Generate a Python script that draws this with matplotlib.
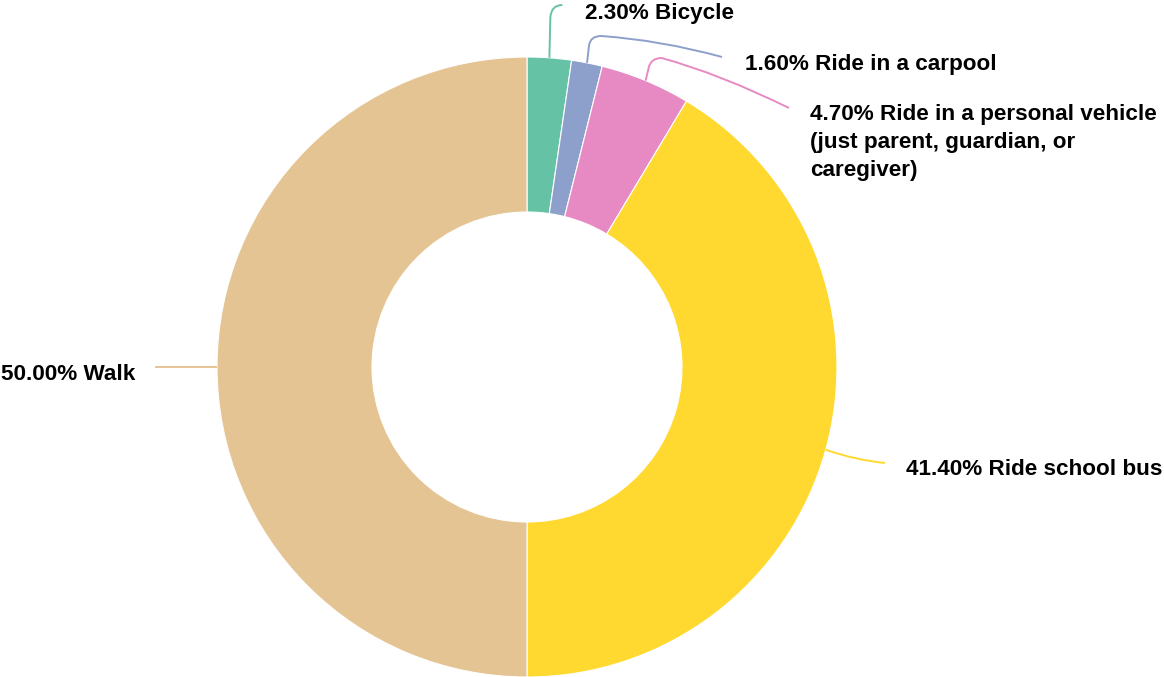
import numpy as np
import matplotlib.pyplot as plt
from matplotlib.path import Path
from matplotlib.patches import PathPatch

# data
modes = ["Bicycle", "Ride in a carpool",
         "Ride in a personal vehicle\n(just parent, guardian, or\ncaregiver)",
         "Ride school bus", "Walk"]
shares = [2.3, 1.6, 4.7, 41.4, 50.0]
colors = ["#66c2a5", "#8da0cb", "#e78ac3", "#ffd92f", "#e5c494"]

W, H = 1164, 677
plt.rcParams["font.family"] = ["Liberation Sans", "DejaVu Sans"]

fig = plt.figure(figsize=(W / 100, H / 100), dpi=100)
ax = fig.add_axes([0, 0, 1, 1])

cx, cy, R = 527, H - 367, 310
wedges, _ = ax.pie(shares, colors=colors, startangle=90, counterclock=False,
                   center=(cx, cy), radius=R,
                   wedgeprops=dict(width=R / 2, edgecolor="white", linewidth=0.8))
ax.set_xlim(0, W)
ax.set_ylim(0, H)
ax.axis("off")


def anchor(w):
    a = np.deg2rad((w.theta1 + w.theta2) / 2)
    return cx + R * np.cos(a), H - (cy + R * np.sin(a))  # pixel coords, y down


# leader shapes relative to slice anchor (pixel coords, y down)
def leader_pts(i, sx, sy):
    if i == 0:
        return ([(sx, sy), (sx + 1, 17), (sx + 2, 5), (sx + 13, 5)],
                [Path.MOVETO, Path.LINETO, Path.CURVE3, Path.CURVE3])
    if i == 1:
        return ([(sx, sy), (sx + 2, 46), (sx + 3, 36), (sx + 14, 36), (660, 40), (722, 57)],
                [Path.MOVETO, Path.LINETO, Path.CURVE3, Path.CURVE3, Path.CURVE3, Path.CURVE3])
    if i == 2:
        return ([(sx, sy), (sx + 3, 68), (sx + 5, 58), (sx + 16, 58), (720, 74), (789, 108)],
                [Path.MOVETO, Path.LINETO, Path.CURVE3, Path.CURVE3, Path.CURVE3, Path.CURVE3])
    if i == 3:
        return ([(sx, sy), (855, 460), (885, 463)],
                [Path.MOVETO, Path.CURVE3, Path.CURVE3])
    return ([(155, sy), (sx, sy)], [Path.MOVETO, Path.LINETO])


label_spots = [(585, 19, "left", "baseline"),
               (745, 70, "left", "baseline"),
               (810, 104, "left", "top"),
               (906, 475, "left", "baseline"),
               (135, 380, "right", "baseline")]

for i, w in enumerate(wedges):
    sx, sy = anchor(w)
    pts, codes = leader_pts(i, sx, sy)
    pts = [(x, H - y) for x, y in pts]
    ax.add_patch(PathPatch(Path(pts, codes), fill=False, edgecolor=colors[i], lw=1.4))
    x, y, ha, va = label_spots[i]
    ax.text(x, H - y, f"{shares[i]:.2f}% {modes[i]}", ha=ha, va=va,
            fontsize=16.2, fontweight="bold", color="black", linespacing=1.45)

fig.savefig("out.png", dpi=100)
